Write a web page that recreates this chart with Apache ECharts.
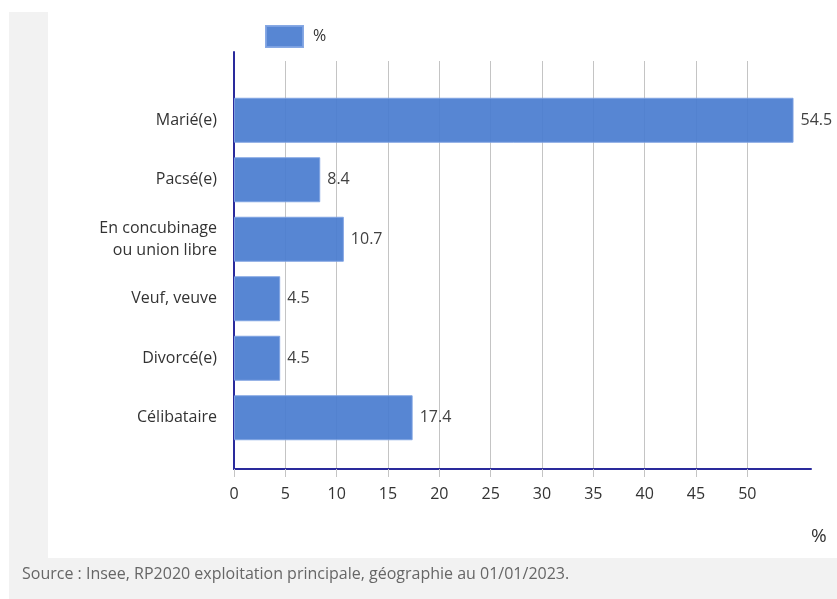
<!DOCTYPE html>
<html>
<head>
<meta charset="utf-8">
<script src="https://cdn.jsdelivr.net/npm/echarts@6/dist/echarts.min.js"></script>
<style>
  html, body { margin: 0; padding: 0; width: 837px; height: 599px; background: #ffffff; overflow: hidden; }
  #bgGray { position: absolute; left: 9px; top: 12px; width: 828px; height: 587px; background: #f2f2f2; }
  #bgWhite { position: absolute; left: 48px; top: 12px; width: 789px; height: 546px; background: #ffffff; }
  #chart { position: absolute; left: 0; top: 0; width: 837px; height: 599px; }
</style>
</head>
<body>
<div id="bgGray"></div>
<div id="bgWhite"></div>
<div id="chart"></div>
<script>
const categories = ['Marié(e)', 'Pacsé(e)', 'En concubinage\nou union libre', 'Veuf, veuve', 'Divorcé(e)', 'Célibataire'];
const values = [54.5, 8.4, 10.7, 4.5, 4.5, 17.4];
const tickValues = [0, 5, 10, 15, 20, 25, 30, 35, 40, 45, 50];
const seriesName = '%';
const axisUnit = '%';
const sourceText = 'Source : Insee, RP2020 exploitation principale, géographie au 01/01/2023.';

const FONT = '"Open Sans", "Noto Sans", sans-serif';
const FS = 16;
const XMAX = 56.2;
const NAVY = '#2a2a9c';
const GRIDC = '#c4c4c4';

const chart = echarts.init(document.getElementById('chart'), null, { renderer: 'canvas' });
chart.setOption({
  backgroundColor: 'transparent',
  animation: false,
  textStyle: { fontFamily: FONT },
  legend: {
    left: 260, top: 20,
    itemWidth: 37, itemHeight: 21,
    textStyle: { fontSize: FS, color: '#333', fontFamily: FONT, padding: [0, 0, 0, 5] },
    data: [{ name: seriesName, icon: 'rect' }]
  },
  grid: [
    { left: 234, right: 26, top: 52, bottom: 130 },
    { left: 234, right: 26, top: 61, bottom: 130 },
    { left: 234, right: 26, top: 90.5, bottom: 151.5 }
  ],
  xAxis: [
    {
      gridIndex: 1, type: 'value', min: 0, max: XMAX, interval: 5,
      axisLine: { show: false }, axisTick: { show: false, customValues: tickValues },
      axisLabel: { show: false, customValues: tickValues },
      splitLine: { show: true, lineStyle: { color: GRIDC, width: 1 } }
    },
    {
      gridIndex: 0, type: 'value', min: 0, max: XMAX, interval: 5,
      axisLine: { show: true, onZero: false, lineStyle: { color: NAVY, width: 2 } },
      axisTick: { show: true, length: 8, customValues: tickValues, lineStyle: { color: GRIDC, width: 1 } },
      axisLabel: { show: true, customValues: tickValues, fontSize: FS, color: '#333', margin: 17, fontFamily: FONT },
      splitLine: { show: false },
      name: axisUnit, nameLocation: 'end', nameGap: 0,
      nameTextStyle: { fontSize: 19, color: '#333', align: 'left', verticalAlign: 'top', padding: [58, 0, 0, 0], fontFamily: FONT }
    },
    {
      gridIndex: 2, type: 'value', min: 0, max: XMAX, interval: 5, show: false
    }
  ],
  yAxis: [
    { gridIndex: 1, type: 'value', min: 0, max: 1, show: false },
    {
      gridIndex: 0, type: 'value', min: 0, max: 1,
      axisLine: { show: true, onZero: false, lineStyle: { color: NAVY, width: 2 } },
      axisTick: { show: false }, axisLabel: { show: false }, splitLine: { show: false }
    },
    {
      gridIndex: 2, type: 'category', inverse: true, data: categories,
      axisLine: { show: false }, axisTick: { show: false },
      axisLabel: { fontSize: FS, color: '#333', margin: 17, lineHeight: 22, fontFamily: FONT, align: 'right' }
    }
  ],
  series: [
    {
      name: seriesName, type: 'bar', xAxisIndex: 2, yAxisIndex: 2,
      data: values, barWidth: 45, z: 2,
      itemStyle: { color: '#4a7dd0', opacity: 0.93, borderColor: '#7ea3e2', borderWidth: 1 },
      label: { show: true, position: 'right', distance: 7, fontSize: FS, color: '#333', fontFamily: FONT }
    }
  ],
  graphic: [
    {
      type: 'text', left: 22, top: 566,
      style: { text: sourceText, fontSize: FS, fill: '#666', fontFamily: FONT }
    }
  ]
});
</script>
</body>
</html>
